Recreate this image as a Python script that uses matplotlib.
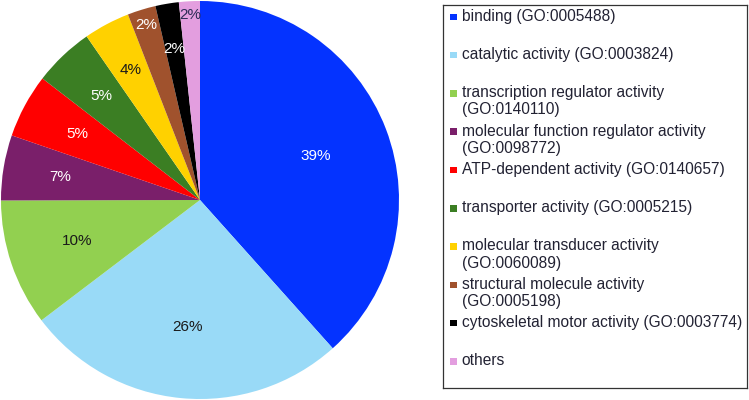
import matplotlib
matplotlib.use("Agg")
import matplotlib.pyplot as plt
from matplotlib.patches import Rectangle
import numpy as np

plt.rcParams['font.family'] = ['Liberation Sans', 'DejaVu Sans']

categories = [
    "binding (GO:0005488)",
    "catalytic activity (GO:0003824)",
    "transcription regulator activity\n(GO:0140110)",
    "molecular function regulator activity\n(GO:0098772)",
    "ATP-dependent activity (GO:0140657)",
    "transporter activity (GO:0005215)",
    "molecular transducer activity\n(GO:0060089)",
    "structural molecule activity\n(GO:0005198)",
    "cytoskeletal motor activity (GO:0003774)",
    "others",
]
shares = [38.4, 26.3, 10.3, 5.3, 5.2, 4.9, 3.75, 2.3, 1.9, 1.7]
pct_labels = ["39%", "26%", "10%", "7%", "5%", "5%", "4%", "2%", "2%", "2%"]

colors = ["#0433FF", "#99DAF7", "#92D050", "#7A1F6A", "#FF0000",
          "#3B7E23", "#FFD100", "#A0522D", "#000000", "#E39EDF"]
text_colors = ["white", "#1a1a1a", "#1a1a1a", "white", "white",
               "white", "#1a1a1a", "white", "white", "#2b2b55"]
label_r = [0.62, 0.64, 0.65, 0.71, 0.70, 0.72, 0.74, 0.92, 0.77, 0.93]

W, H = 749, 400
fig = plt.figure(figsize=(W / 100, H / 100), dpi=100)

ax = fig.add_axes([1 / W, 1 / H, 398 / W, 398 / H])
wedges, _ = ax.pie(shares, colors=colors, startangle=90, counterclock=False,
                   radius=1.0, wedgeprops=dict(linewidth=0))
ax.set_xlim(-1, 1)
ax.set_ylim(-1, 1)
ax.set_aspect('equal')
ax.axis('off')

for w, lab, tc, r in zip(wedges, pct_labels, text_colors, label_r):
    ang = np.deg2rad((w.theta1 + w.theta2) / 2)
    ax.text(r * np.cos(ang), r * np.sin(ang), lab, color=tc, fontsize=11,
            ha='center', va='center')

# legend box
lx0, lx1, ly0, ly1 = 443, 747, 5, 388
lax = fig.add_axes([lx0 / W, (H - ly1) / H, (lx1 - lx0) / W, (ly1 - ly0) / H])
lax.set_xlim(lx0, lx1)
lax.set_ylim(ly1, ly0)
lax.set_xticks([])
lax.set_yticks([])
for s in lax.spines.values():
    s.set_linewidth(0.9)
    s.set_color("#333333")

for i, (cat, c) in enumerate(zip(categories, colors)):
    y = 16.7 + 38.3 * i
    lax.add_patch(Rectangle((450, y - 3.2), 6.5, 6.5, facecolor=c, edgecolor='none'))
    lax.text(461.5, y - 8.0, cat, fontsize=11.2, color="#222233",
             ha='left', va='top', linespacing=1.17)

fig.savefig("out.png", dpi=100)
